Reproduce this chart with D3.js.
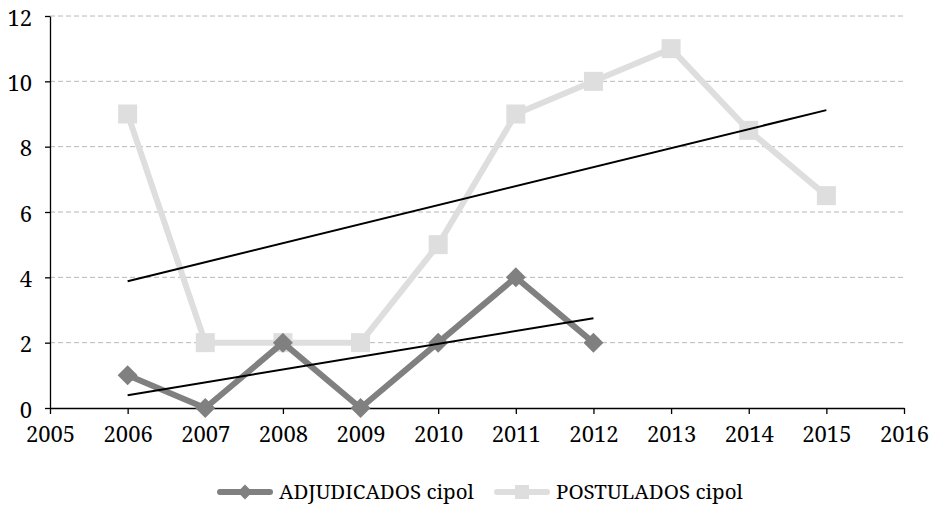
<!DOCTYPE html>
<html>
<head>
<meta charset="utf-8">
<script src="https://cdn.jsdelivr.net/npm/d3@7"></script>
<style>
  body { margin: 0; background: #fff; }
</style>
</head>
<body>
<div class="svg-container"></div>
<script>
// data
const years = [2006, 2007, 2008, 2009, 2010, 2011, 2012, 2013, 2014, 2015];
const adjudicados = [1, 0, 2, 0, 2, 4, 2];
const postulados = [9, 2, 2, 2, 5, 9, 10, 11, 8.5, 6.5];
const yTicks = [0, 2, 4, 6, 8, 10, 12];
const xTicks = [2005, 2006, 2007, 2008, 2009, 2010, 2011, 2012, 2013, 2014, 2015, 2016];

const seriesNames = ['ADJUDICADOS cipol', 'POSTULADOS cipol'];
const seriesColors = ['#808080', '#dedede'];

const fontFamily = '"Noto Serif"';

const width = 934;
const height = 519;
const margin = { top: 16, right: 30, bottom: 111, left: 50 };

const svg = d3.select('.svg-container')
  .append('svg')
  .attr('width', width)
  .attr('height', height);

const xScale = d3.scaleLinear()
  .domain([2005, 2016])
  .range([margin.left, width - margin.right]);

const yScale = d3.scaleLinear()
  .domain([0, 12])
  .range([height - margin.bottom, margin.top]);

// gridlines
svg.append('g')
  .selectAll('line')
  .data(yTicks.filter(d => d > 0))
  .join('line')
  .attr('x1', margin.left)
  .attr('x2', width - margin.right)
  .attr('y1', d => yScale(d))
  .attr('y2', d => yScale(d))
  .attr('stroke', '#b8b8b8')
  .attr('stroke-width', 1)
  .attr('stroke-dasharray', '5,3');

// axes
const xAxis = d3.axisBottom(xScale)
  .tickValues(xTicks)
  .tickFormat(d3.format('d'))
  .tickSize(6)
  .tickSizeOuter(0);

const yAxis = d3.axisLeft(yScale)
  .tickValues(yTicks)
  .tickSize(5)
  .tickSizeOuter(0);

const gx = svg.append('g')
  .attr('transform', `translate(0, ${height - margin.bottom})`)
  .call(xAxis);
gx.selectAll('text')
  .style('font-family', fontFamily)
  .style('font-size', '22px')
  .attr('fill', '#000')
  .attr('dy', '1.15em');

const gy = svg.append('g')
  .attr('transform', `translate(${margin.left}, 0)`)
  .call(yAxis);
gy.selectAll('text')
  .style('font-family', fontFamily)
  .style('font-size', '22px')
  .attr('fill', '#000')
  .attr('x', -18)
  .attr('dy', '0.42em');

svg.selectAll('.domain, .tick line').attr('stroke', '#000').attr('stroke-width', 1.3);

// least squares trend line
function trend(xs, ys) {
  const n = ys.length;
  const xm = d3.mean(xs.slice(0, n));
  const ym = d3.mean(ys);
  let sxy = 0, sxx = 0;
  for (let i = 0; i < n; i++) {
    sxy += (xs[i] - xm) * (ys[i] - ym);
    sxx += (xs[i] - xm) ** 2;
  }
  const b = sxy / sxx;
  return [xs[0], xs[n - 1]].map(x => [x, ym + b * (x - xm)]);
}

const line = d3.line()
  .x(d => xScale(d[0]))
  .y(d => yScale(d[1]));

const adjData = adjudicados.map((v, i) => [years[i], v]);
const postData = postulados.map((v, i) => [years[i], v]);

// postulados series
svg.append('path')
  .datum(postData)
  .attr('d', line)
  .attr('fill', 'none')
  .attr('stroke', seriesColors[1])
  .attr('stroke-width', 6)
  .attr('stroke-linejoin', 'round');

svg.append('g')
  .selectAll('rect')
  .data(postData)
  .join('rect')
  .attr('x', d => xScale(d[0]) - 9.5)
  .attr('y', d => yScale(d[1]) - 9.5)
  .attr('width', 19)
  .attr('height', 19)
  .attr('fill', seriesColors[1]);

// adjudicados series
svg.append('path')
  .datum(adjData)
  .attr('d', line)
  .attr('fill', 'none')
  .attr('stroke', seriesColors[0])
  .attr('stroke-width', 6)
  .attr('stroke-linejoin', 'round');

const diamond = d3.symbol().type(d3.symbolSquare).size(200);

svg.append('g')
  .selectAll('path')
  .data(adjData)
  .join('path')
  .attr('d', diamond)
  .attr('transform', d => `translate(${xScale(d[0])}, ${yScale(d[1])}) rotate(45)`)
  .attr('fill', seriesColors[0]);

// trend lines
[trend(years, postulados), trend(years, adjudicados)].forEach(t => {
  svg.append('path')
    .datum(t)
    .attr('d', line)
    .attr('stroke', '#000')
    .attr('stroke-width', 2);
});

// legend
const legendY = 492;
const legendX = [220, 497];

seriesNames.forEach((name, i) => {
  const g = svg.append('g').attr('transform', `translate(${legendX[i]}, ${legendY})`);
  g.append('line')
    .attr('x1', 0).attr('x2', 50)
    .attr('stroke', seriesColors[i])
    .attr('stroke-width', 6)
    .attr('stroke-linecap', 'round');
  if (i === 0) {
    g.append('path')
      .attr('d', d3.symbol().type(d3.symbolSquare).size(110))
      .attr('transform', 'translate(25, 0) rotate(45)')
      .attr('fill', seriesColors[i]);
  } else {
    g.append('rect')
      .attr('x', 18).attr('y', -7)
      .attr('width', 14).attr('height', 14)
      .attr('fill', seriesColors[i]);
  }
  g.append('text')
    .attr('x', 59)
    .attr('dy', '0.33em')
    .style('font-family', fontFamily)
    .style('font-size', '20.5px')
    .text(name);
});
</script>
</body>
</html>
